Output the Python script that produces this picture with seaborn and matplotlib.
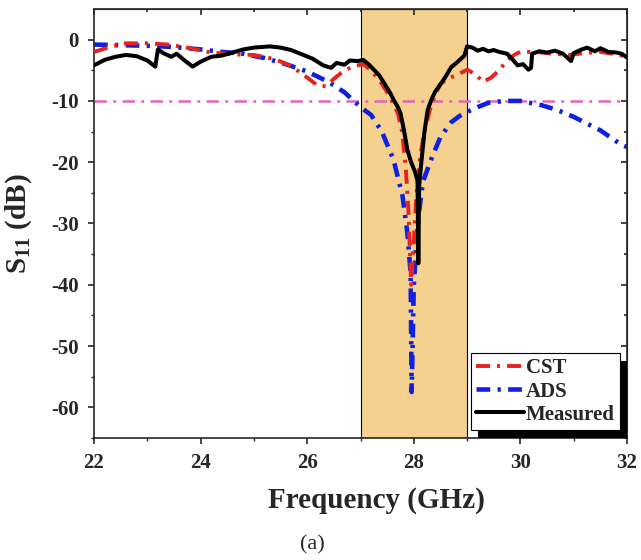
import numpy as np
import pandas as pd
import matplotlib
matplotlib.use("Agg")
import matplotlib.pyplot as plt
import seaborn as sns
from matplotlib.patches import Rectangle

# ---------------- data ----------------
meas_f = [22.0, 22.2, 22.4, 22.6, 22.8, 23.0, 23.15, 23.2, 23.3, 23.45, 23.55, 23.7, 23.85,
          24.0, 24.2, 24.4, 24.6, 24.8, 25.0, 25.3, 25.5, 25.7, 25.9, 26.1, 26.3, 26.45,
          26.55, 26.7, 26.8, 26.95, 27.05, 27.15, 27.25, 27.35, 27.45, 27.55, 27.62, 27.7,
          27.75, 27.82, 27.88, 27.95, 28.02, 28.07, 28.085, 28.1, 28.13, 28.2, 28.26, 28.32,
          28.4, 28.5, 28.6, 28.7, 28.8, 28.9, 28.95, 29.0, 29.1, 29.2, 29.3, 29.4, 29.5,
          29.6, 29.75, 29.85, 29.95, 30.05, 30.15, 30.2, 30.22, 30.35, 30.5, 30.65, 30.8,
          30.95, 31.0, 31.15, 31.25, 31.4, 31.5, 31.65, 31.8, 31.9, 32.0]
meas_db = [-4.2, -3.3, -2.8, -2.5, -2.7, -3.4, -4.4, -1.6, -2.2, -2.8, -2.3, -3.4, -4.4,
           -3.6, -2.8, -2.6, -2.1, -1.6, -1.3, -1.1, -1.3, -1.7, -2.4, -3.1, -4.2, -4.6,
           -3.8, -4.1, -3.4, -3.5, -3.3, -4.0, -4.9, -5.8, -7.2, -8.6, -9.8, -11.0,
           -12.0, -15.0, -18.0, -20.0, -21.5, -23.0, -36.5, -24.0, -21.0, -15.0, -11.5, -10.0,
           -8.5, -7.3, -6.0, -4.5, -3.8, -3.0, -2.6, -1.1, -1.3, -1.8, -1.5, -1.9, -1.7,
           -2.0, -2.3, -3.2, -4.2, -4.0, -4.9, -4.6, -2.3, -1.9, -2.1, -1.8, -2.3,
           -3.5, -2.2, -1.6, -1.3, -1.9, -1.4, -2.0, -2.1, -2.3, -2.9]

cst_f = [22.0, 22.3, 22.6, 23.0, 23.4, 23.8, 24.2, 24.6, 25.0, 25.4, 25.7, 26.0, 26.2,
         26.35, 26.5, 26.7, 26.9, 27.05, 27.2, 27.4, 27.55, 27.7, 27.78, 27.85, 27.9,
         27.95, 28.0, 28.05, 28.12, 28.2, 28.3, 28.4, 28.5, 28.65, 28.8, 29.0, 29.15,
         29.3, 29.45, 29.6, 29.75, 29.9, 30.0, 30.3, 30.6, 30.9, 31.2, 31.5, 31.8, 32.0]
cst_db = [-2.0, -1.2, -0.6, -0.6, -0.8, -1.4, -2.1, -2.4, -2.5, -3.2, -4.3, -6.2, -7.5,
          -7.6, -6.4, -5.0, -4.3, -4.0, -5.0, -7.2, -9.3, -12.0, -15.0, -21.0, -28.0,
          -40.0, -33.0, -25.0, -19.0, -15.0, -11.5, -9.0, -7.2, -6.3, -5.8, -4.9, -5.6,
          -6.9, -6.2, -5.0, -3.4, -2.4, -2.0, -2.0, -2.3, -2.5, -2.2, -2.0, -2.4, -2.8]

ads_f = [22.0, 22.5, 23.0, 23.5, 24.0, 24.4, 24.8, 25.2, 25.6, 26.0, 26.4, 26.7, 27.0,
         27.2, 27.4, 27.62, 27.79, 27.88, 27.94, 27.96, 28.0, 28.05, 28.1, 28.17, 28.35,
         28.5, 28.7, 28.85, 29.0, 29.2, 29.4, 29.7, 30.0, 30.4, 30.7, 31.0, 31.5, 31.9, 32.0]
ads_db = [-0.8, -0.9, -1.0, -1.2, -1.6, -2.0, -2.3, -3.0, -4.0, -5.2, -6.9, -8.6, -11.0,
          -12.3, -15.0, -19.6, -25.6, -31.6, -38.0, -57.5, -40.0, -33.0, -28.0, -23.2, -19.0,
          -15.9, -13.5, -12.5, -11.8, -11.0, -10.3, -10.0, -10.0, -10.7, -11.5, -12.6, -14.8, -17.2, -17.5]

ref_level = -10
band = (27, 29)
labels = ["CST", "ADS", "Measured"]

# ---------------- style ----------------
sns.set_style("ticks")
plt.rcParams["font.family"] = ["Liberation Serif", "DejaVu Serif"]
plt.rcParams["font.weight"] = "bold"
plt.rcParams["axes.unicode_minus"] = False
plt.rcParams["mathtext.fontset"] = "custom"
plt.rcParams["mathtext.rm"] = "Liberation Serif:bold"
plt.rcParams["mathtext.it"] = "Liberation Serif:bold"
plt.rcParams["mathtext.bf"] = "Liberation Serif:bold"

W, H = 641, 560
fig = plt.figure(figsize=(W / 100, H / 100), dpi=100)
ax = fig.add_axes([94 / W, 1 - 438 / H, (627 - 94) / W, (438 - 9) / H])

ax.axvspan(band[0], band[1], facecolor="#F5D18F", edgecolor="black", linewidth=0.8, zorder=0)
ax.axhline(ref_level, color="#E466B8", linewidth=1.8, linestyle=(0, (5, 2.5, 1.2, 2.5)), zorder=1)

df_m = pd.DataFrame({"f": meas_f, "db": meas_db})
df_c = pd.DataFrame({"f": cst_f, "db": cst_db})
df_a = pd.DataFrame({"f": ads_f, "db": ads_db})

sns.lineplot(data=df_c, x="f", y="db", ax=ax, color="#E8231E", linewidth=2.8,
             linestyle=(0, (3.6, 1.8, 0.8, 1.8)), label=labels[0], sort=False, zorder=3)
sns.lineplot(data=df_a, x="f", y="db", ax=ax, color="#1020E0", linewidth=3.3,
             linestyle=(0, (3.0, 1.6, 0.7, 1.6)), label=labels[1], sort=False, zorder=2)
sns.lineplot(data=df_m, x="f", y="db", ax=ax, color="black", linewidth=2.9,
             label=labels[2], sort=False, zorder=4)

ax.set_xlim(22, 32)
ax.set_ylim(-65, 5)
ax.set_xticks(np.arange(22, 33, 2))
ax.set_xticks(np.arange(22, 33, 1), minor=True)
ax.set_yticks(np.arange(-60, 1, 10))
ax.set_yticks(np.arange(-65, 5, 5), minor=True)
ax.tick_params(axis="both", which="major", direction="out", length=4, width=1.2,
               labelsize=15, pad=7)
ax.tick_params(axis="both", which="minor", direction="out", length=2.5, width=1.0)
for s in ax.spines.values():
    s.set_linewidth(1.2)
    s.set_visible(True)

# inner ticks on top / right
top = ax.secondary_xaxis("top")
top.set_xticks(np.arange(22, 33, 2))
top.set_xticks(np.arange(22, 33, 1), minor=True)
top.tick_params(which="both", direction="in", labeltop=False, width=1.2)
top.tick_params(which="major", length=4)
top.tick_params(which="minor", length=2.5)
right = ax.secondary_yaxis("right")
right.set_yticks(np.arange(-60, 1, 10))
right.set_yticks(np.arange(-65, 5, 5), minor=True)
right.tick_params(which="both", direction="in", labelright=False, width=1.2)
right.tick_params(which="major", length=4)
right.tick_params(which="minor", length=2.5)

ax.set_xlabel("Frequency (GHz)", fontsize=21, fontweight="bold")
ax.set_ylabel("S$_{11}$ (dB)", fontsize=21, fontweight="bold")
ax.xaxis.set_label_coords(0.53, -0.115)
ax.yaxis.set_label_coords(-0.112, 0.5)

leg = ax.legend(loc="lower right", bbox_to_anchor=(0.987, 0.019), borderaxespad=0,
                fontsize=15, frameon=True, fancybox=False, edgecolor="black",
                framealpha=1, handlelength=2.3, handletextpad=0.1, labelspacing=0.15,
                borderpad=0.25)
leg.get_frame().set_linewidth(0.8)
leg.set_zorder(6)
for t in leg.get_texts():
    t.set_fontweight("bold")

fig.text(312 / W, 1 - 545 / H, "(a)", fontsize=16, fontweight="normal",
         ha="center", va="center")

# black drop shadow behind the legend
fig.canvas.draw()
bb = leg.get_window_extent()
inv = ax.transAxes.inverted()
(x0, y0) = inv.transform((bb.x0 + 7, bb.y0 - 8))
(x1, y1) = inv.transform((bb.x1 + 7, bb.y1 - 8))
ax.add_patch(Rectangle((x0, y0), x1 - x0, y1 - y0, transform=ax.transAxes,
                       facecolor="black", edgecolor="none", zorder=5.5, clip_on=False))

fig.savefig("out.png", dpi=100)
